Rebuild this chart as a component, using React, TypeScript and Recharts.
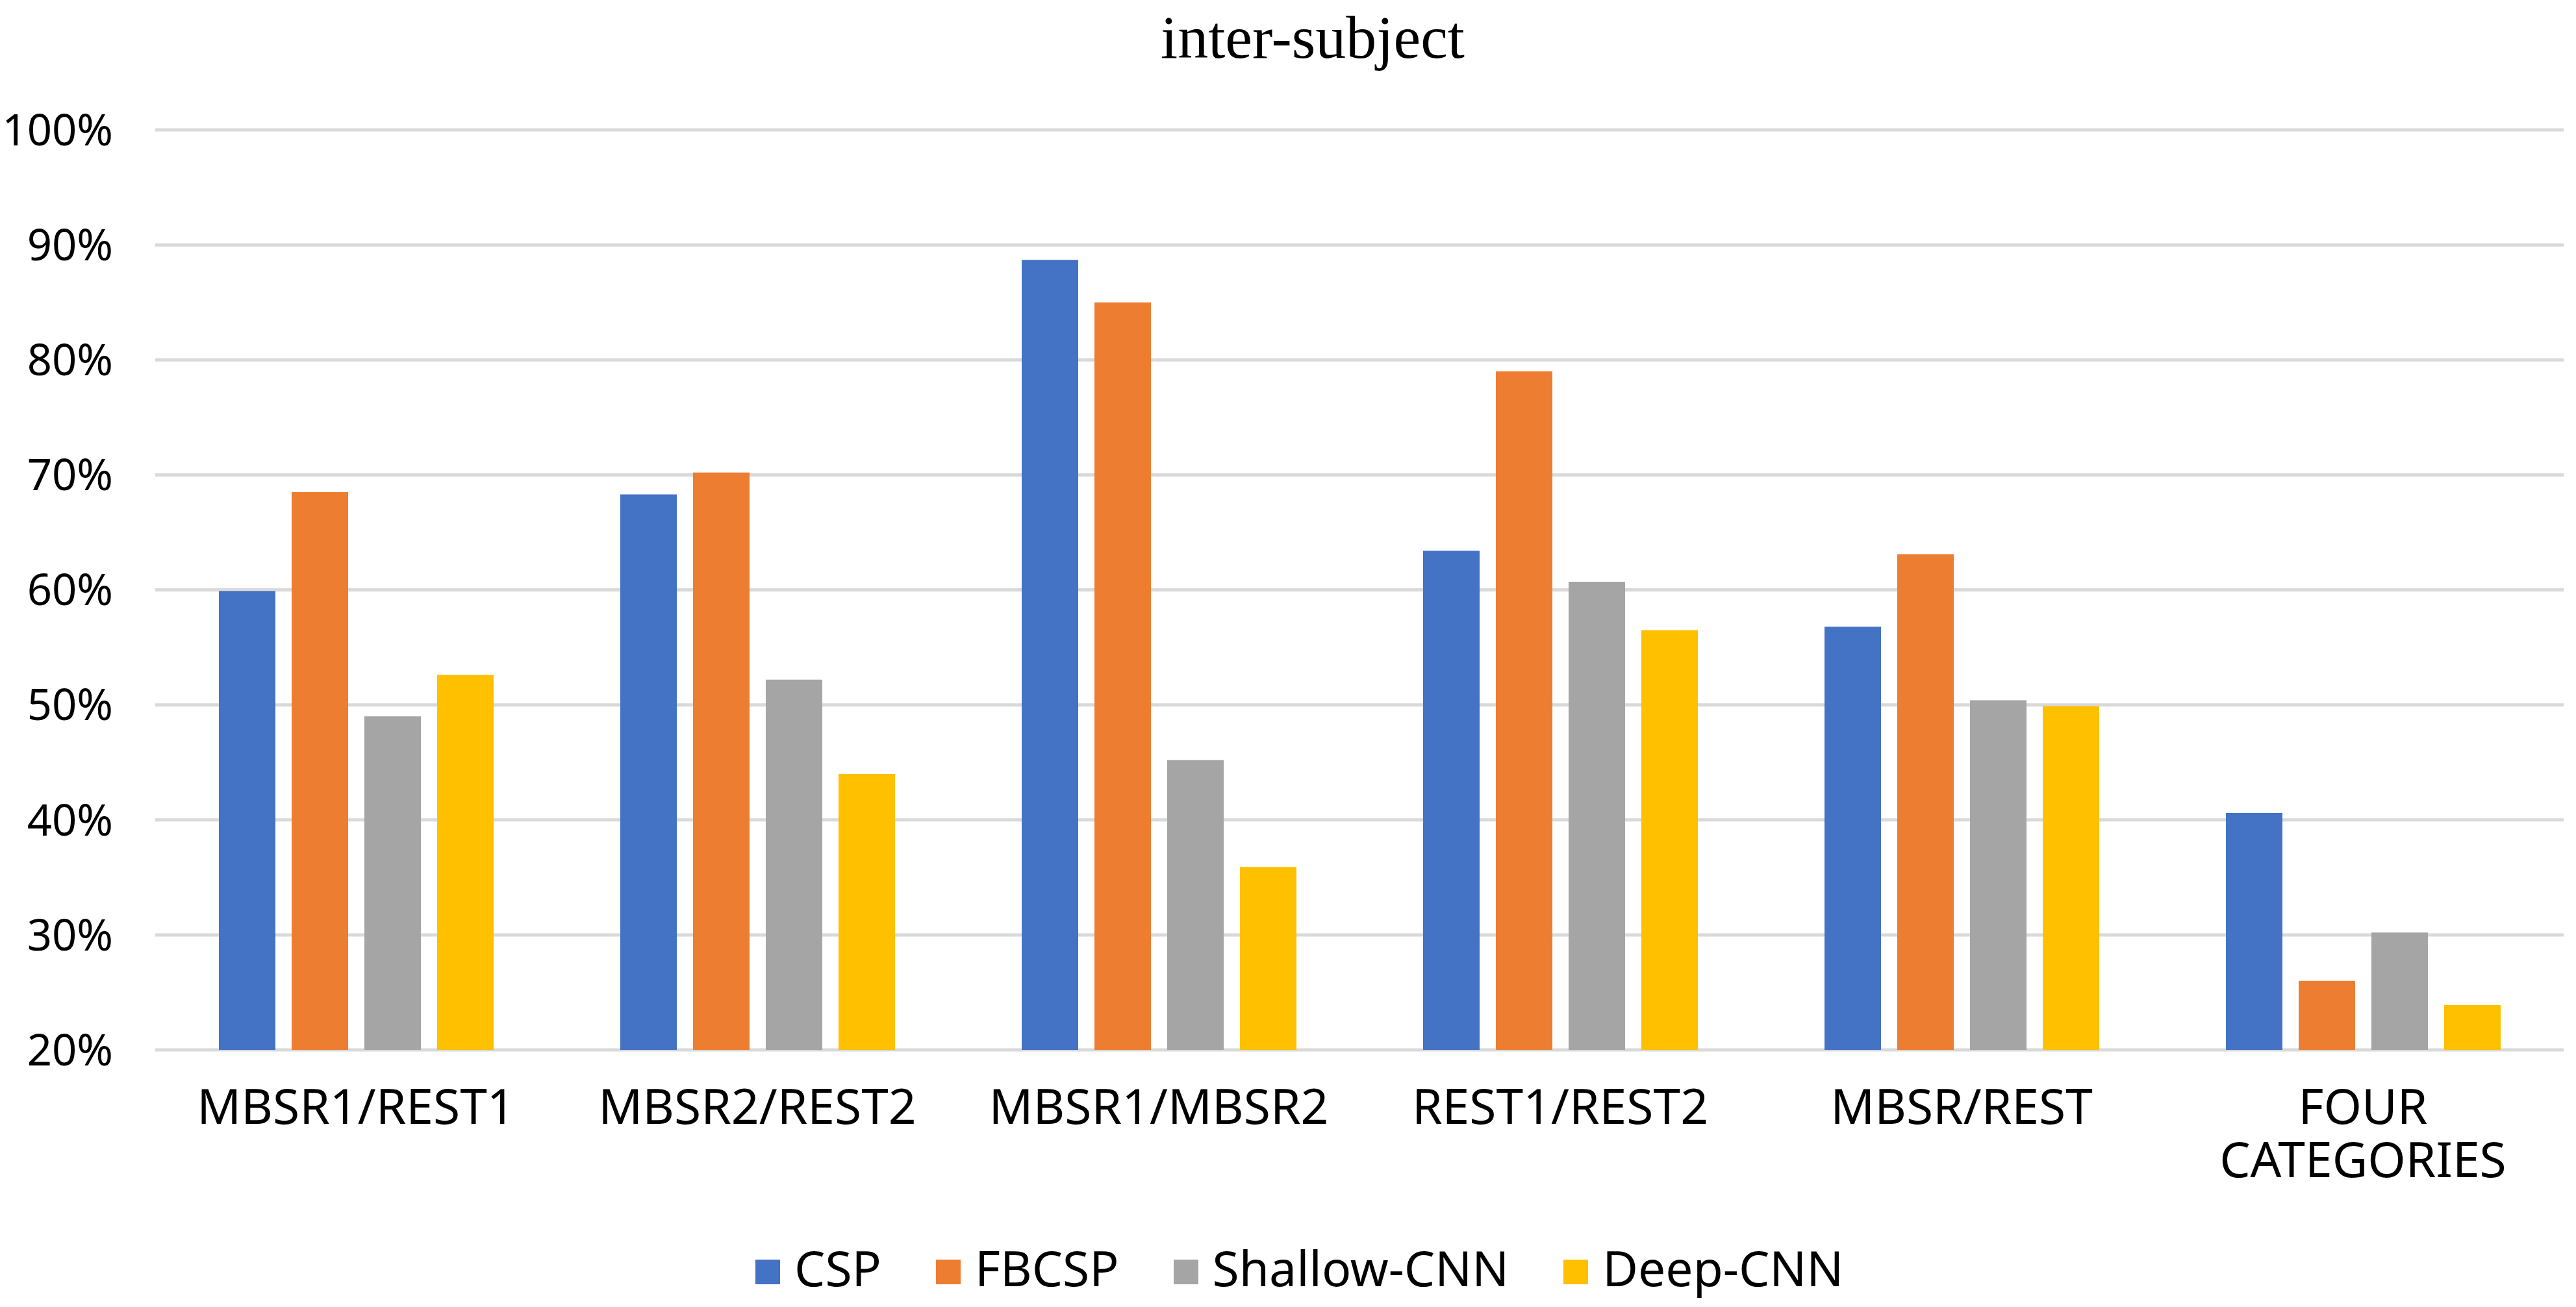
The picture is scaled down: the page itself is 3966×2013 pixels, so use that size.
import { BarChart, Bar, XAxis, YAxis, CartesianGrid, Legend } from 'recharts';

const CATEGORIES = [
  'MBSR1/REST1',
  'MBSR2/REST2',
  'MBSR1/MBSR2',
  'REST1/REST2',
  'MBSR/REST',
  'FOUR CATEGORIES',
];

const CSP         = [59.9, 68.3, 88.7, 63.4, 56.8, 40.6];
const FBCSP       = [68.5, 70.2, 85.0, 79.0, 63.1, 26.0];
const SHALLOW_CNN = [49.0, 52.2, 45.2, 60.7, 50.4, 30.2];
const DEEP_CNN    = [52.6, 44.0, 35.9, 56.5, 49.9, 23.9];

const Y_TICKS = [20, 30, 40, 50, 60, 70, 80, 90, 100];

const SERIES = [
  { key: 'csp',     label: 'CSP',         color: '#4472C4' },
  { key: 'fbcsp',   label: 'FBCSP',       color: '#ED7D31' },
  { key: 'shallow', label: 'Shallow-CNN', color: '#A5A5A5' },
  { key: 'deep',    label: 'Deep-CNN',    color: '#FFC000' },
] as const;

const data = CATEGORIES.map((name, i) => ({
  name,
  csp: CSP[i],
  fbcsp: FBCSP[i],
  shallow: SHALLOW_CNN[i],
  deep: DEEP_CNN[i],
}));

const SANS = '"Noto Sans", "DejaVu Sans", sans-serif';

// Excel wraps the long label onto two lines
function CategoryTick({ x, y, payload }: any) {
  const lines = String(payload.value).split(' ');
  return (
    <text x={x} y={y + 114} textAnchor="middle" fontFamily={SANS} fontSize={75} fill="#000">
      {lines.map((line, i) => (
        <tspan key={i} x={x} dy={i === 0 ? 0 : 82}>{line}</tspan>
      ))}
    </text>
  );
}

function LegendContent() {
  return (
    <div style={{ display: 'flex', alignItems: 'center', fontFamily: SANS, fontSize: 75, lineHeight: 1, color: '#000' }}>
      {SERIES.map(({ key, label, color }) => (
        <div key={key} style={{ display: 'flex', alignItems: 'center', marginRight: 84 }}>
          <span style={{ width: 38, height: 38, background: color, marginRight: 22, marginTop: 12 }} />
          <span style={{ whiteSpace: 'nowrap' }}>{label}</span>
        </div>
      ))}
    </div>
  );
}

export default function App() {
  return (
    <div style={{ position: 'relative', width: 3966, height: 2013, background: '#fff' }}>
      <style>{'body { margin: 0; }'}</style>
      <div
        style={{
          position: 'absolute',
          top: 10,
          left: 2021,
          transform: 'translateX(-50%)',
          fontFamily: '"Liberation Serif", "Times New Roman", serif',
          fontSize: 94,
          lineHeight: 1,
          whiteSpace: 'nowrap',
          color: '#000',
        }}
      >
        inter-subject
      </div>
      <BarChart
        width={3966}
        height={2013}
        data={data}
        margin={{ top: 200, right: 19, left: 0, bottom: 176 }}
        barGap={25}
      >
        <CartesianGrid vertical={false} stroke="#d9d9d9" strokeWidth={5} />
        <XAxis
          dataKey="name"
          axisLine={false}
          tickLine={false}
          tickSize={0}
          tickMargin={0}
          height={220}
          interval={0}
          tick={<CategoryTick />}
        />
        <YAxis
          domain={[20, 100]}
          ticks={Y_TICKS}
          width={239}
          axisLine={false}
          tickLine={false}
          tickSize={0}
          tickMargin={65}
          tickFormatter={(v: number) => `${v}%`}
          tick={{ fontFamily: SANS, fontSize: 67, fill: '#000' }}
        />
        <Legend
          verticalAlign="middle"
          align="center"
          layout="horizontal"
          content={<LegendContent />}
          wrapperStyle={{ top: 1915, left: 1163, width: 'auto', height: 'auto' }}
        />
        {SERIES.map(({ key, label, color }) => (
          <Bar
            key={key}
            dataKey={key}
            name={label}
            fill={color}
            barSize={87}
            isAnimationActive={false}
          />
        ))}
      </BarChart>
    </div>
  );
}
